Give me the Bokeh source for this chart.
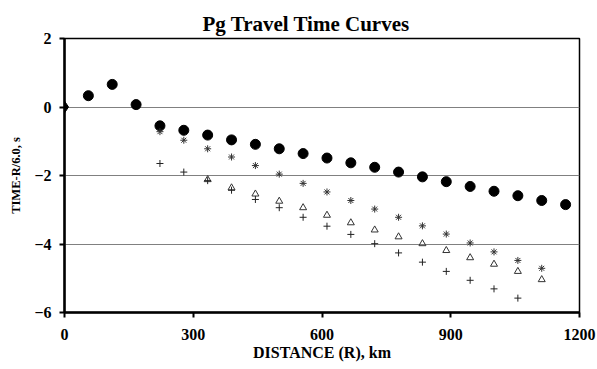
from bokeh.plotting import figure
from bokeh.models import Range1d, FixedTicker, Title
from bokeh.embed import file_html
from bokeh.resources import INLINE

# Distances (km), 0.5 degree steps
dist = [0, 55.6, 111.2, 166.8, 222.4, 278.0, 333.6, 389.2, 444.8, 500.4, 556.0,
        611.6, 667.2, 722.8, 778.4, 834.0, 889.6, 945.2, 1000.8, 1056.4, 1112.0, 1167.6]

origin_x = [0]
origin_y = [0]

circle_x = dist[1:]
circle_y = [0.33, 0.66, 0.07, -0.55, -0.68, -0.82, -0.96, -1.09, -1.22, -1.36,
            -1.49, -1.63, -1.76, -1.90, -2.04, -2.18, -2.32, -2.46, -2.59, -2.73, -2.85]

star_x = dist[4:21]
star_y = [-0.72, -0.97, -1.22, -1.46, -1.71, -1.96, -2.23, -2.48, -2.73, -2.98,
          -3.22, -3.47, -3.71, -3.97, -4.23, -4.48, -4.71]

tri_x = dist[6:21]
tri_y = [-2.12, -2.36, -2.54, -2.75, -2.94, -3.16, -3.38, -3.59, -3.79, -3.99,
         -4.19, -4.40, -4.59, -4.80, -5.04]

plus_x = dist[4:20]
plus_y = [-1.65, -1.90, -2.15, -2.43, -2.70, -2.94, -3.22, -3.48, -3.72, -3.99,
          -4.26, -4.53, -4.80, -5.06, -5.31, -5.58]

x_ticks = [0, 300, 600, 900, 1200]
y_ticks = [-6, -4, -2, 0, 2]

title_text = "Pg Travel Time Curves"
x_label = "DISTANCE (R), km"
y_label = "TIME-R/6.0, s"

FONT = "Liberation Serif"

p = figure(width=597, height=369, output_backend="svg", toolbar_location=None,
           x_range=Range1d(0, 1200), y_range=Range1d(-6, 2),
           min_border_left=64, min_border_right=18, min_border_top=38, min_border_bottom=57)

p.add_layout(Title(text=title_text, align="left", offset=138,
                   text_font=FONT, text_font_size="21px", text_font_style="bold",
                   text_color="black", standoff=6), "above")

p.background_fill_color = "white"
p.border_fill_color = "white"
p.outline_line_color = "black"
p.outline_line_width = 1.5

p.xgrid.grid_line_color = None
p.ygrid.ticker = FixedTicker(ticks=y_ticks)
p.ygrid.grid_line_color = "#808080"
p.ygrid.grid_line_width = 1

p.xaxis.ticker = FixedTicker(ticks=x_ticks)
p.yaxis.ticker = FixedTicker(ticks=y_ticks)
for ax in (p.xaxis[0], p.yaxis[0]):
    ax.axis_line_color = "black"
    ax.axis_line_width = 2.5
    ax.major_tick_line_color = "black"
    ax.major_tick_line_width = 2
    ax.major_tick_out = 5
    ax.major_tick_in = 0
    ax.minor_tick_line_color = None
    ax.major_label_text_font = FONT
    ax.major_label_text_font_size = "16px"
    ax.major_label_text_font_style = "bold"
    ax.major_label_text_color = "black"
    ax.axis_label_text_font = FONT
    ax.axis_label_text_font_style = "bold"
    ax.axis_label_text_color = "black"

p.xaxis.axis_label = x_label
p.xaxis.axis_label_text_font_size = "16px"
p.xaxis.major_label_standoff = 11
p.xaxis.axis_label_standoff = 1

p.yaxis.axis_label = y_label
p.yaxis.axis_label_text_font_size = "12.5px"
p.yaxis.major_label_standoff = 8
p.yaxis.axis_label_standoff = 8

p.scatter(origin_x, origin_y, marker="diamond", size=12, fill_color="black", line_color="black")
p.scatter(circle_x, circle_y, marker="circle", size=10, fill_color="black", line_color="black")
p.scatter(star_x, star_y, marker="asterisk", size=7, line_color="#333333", line_width=1)
p.scatter(tri_x, tri_y, marker="triangle", size=7, fill_color=None, line_color="#333333", line_width=1)
p.scatter(plus_x, plus_y, marker="cross", size=7, line_color="#222222", line_width=1)

open("out.html", "w").write(file_html(p, INLINE))
